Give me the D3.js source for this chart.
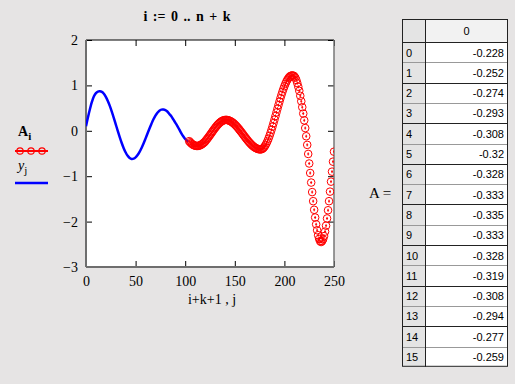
<!DOCTYPE html>
<html>
<head>
<meta charset="utf-8">
<script src="https://cdn.jsdelivr.net/npm/d3@7"></script>
<style>
  html, body { margin: 0; padding: 0; background: #e6e4e4; }
  svg { display: block; }
</style>
</head>
<body>
<div id="chart"></div>
<script>
// blue trace y_j, sampled every 2 units of j
const yjX = [0, 2, 4, 6, 8, 10, 12, 14, 16, 18, 20, 22, 24, 26, 28, 30, 32, 34, 36, 38, 40, 42, 44, 46, 48,
  50, 52, 54, 56, 58, 60, 62, 64, 66, 68, 70, 72, 74, 76, 78, 80, 82, 84, 86, 88, 90, 92, 94, 96, 98, 100, 102, 103];
const yjValues = [0.10, 0.30, 0.48, 0.64, 0.76, 0.83, 0.865, 0.87, 0.856, 0.815, 0.748, 0.658, 0.549, 0.423, 0.286,
  0.143, 0.0, -0.139, -0.268, -0.382, -0.478, -0.552, -0.598, -0.619, -0.613, -0.585, -0.535, -0.465, -0.379,
  -0.281, -0.173, -0.061, 0.05, 0.156, 0.253, 0.334, 0.399, 0.444, 0.467, 0.468, 0.455, 0.425, 0.37, 0.32, 0.25,
  0.18, 0.11, 0.03, -0.05, -0.12, -0.18, -0.23, -0.25];

// red trace A_i plotted at i+k+1
const kOffset = 104;
const aValues = [
  -0.228, -0.252, -0.274, -0.293, -0.308, -0.32, -0.328, -0.333, -0.335, -0.333, -0.328, -0.319, -0.308, -0.294, -0.277, -0.259,
  -0.238, -0.209, -0.182, -0.154, -0.124, -0.094, -0.063, -0.032, -0.001, 0.030, 0.059, 0.087, 0.114, 0.139, 0.161, 0.182,
  0.199, 0.214, 0.225, 0.233, 0.238, 0.240, 0.239, 0.235, 0.228, 0.219, 0.208, 0.194, 0.178, 0.160, 0.140, 0.117,
  0.094, 0.069, 0.043, 0.015, -0.013, -0.041, -0.070, -0.100, -0.129, -0.157, -0.185, -0.213, -0.239, -0.264, -0.287, -0.310,
  -0.330, -0.348, -0.364, -0.378, -0.389, -0.398, -0.405, -0.409, -0.410, -0.406, -0.394, -0.375, -0.348, -0.314, -0.272, -0.225,
  -0.171, -0.112, -0.048, 0.021, 0.093, 0.169, 0.246, 0.325, 0.405, 0.485, 0.564, 0.641, 0.717, 0.789, 0.858, 0.922,
  0.981, 1.035, 1.082, 1.124, 1.158, 1.185, 1.205, 1.216, 1.220, 1.215, 1.20, 1.17, 1.12, 1.05, 0.97, 0.88,
  0.77, 0.65, 0.52, 0.38, 0.23, 0.06, -0.12, -0.31, -0.51, -0.72, -0.93, -1.14, -1.35, -1.55, -1.74, -1.91,
  -2.06, -2.19, -2.30, -2.38, -2.43, -2.45, -2.43, -2.39, -2.32, -2.22, -2.09, -1.93, -1.75, -1.55, -1.34, -1.12,
  -0.90, -0.68, -0.46
];

const xTicks = [0, 50, 100, 150, 200, 250];
const yTicks = [2, 1, 0, -1, -2, -3];
const tableRows = d3.range(16);

const width = 515;
const height = 384;
const plot = { left: 86, right: 334, top: 40, bottom: 267 };
const serif = "'Liberation Serif', 'Times New Roman', serif";
const sans = "'Liberation Sans', Arial, sans-serif";

const svg = d3.select("#chart").append("svg").attr("width", width).attr("height", height);

const x = d3.scaleLinear().domain([0, 250]).range([plot.left, plot.right]);
const y = d3.scaleLinear().domain([-3, 2]).range([plot.bottom, plot.top]);

svg.append("text")
  .attr("x", 187).attr("y", 21)
  .attr("text-anchor", "middle")
  .attr("font-family", serif).attr("font-size", 14).attr("font-weight", 700)
  .attr("word-spacing", 2)
  .text("i := 0 .. n + k");

svg.append("rect")
  .attr("x", plot.left).attr("y", plot.top)
  .attr("width", plot.right - plot.left).attr("height", plot.bottom - plot.top)
  .attr("fill", "#ffffff");

svg.append("clipPath").attr("id", "plotClip")
  .append("rect")
  .attr("x", plot.left).attr("y", plot.top)
  .attr("width", plot.right - plot.left).attr("height", plot.bottom - plot.top);

const styleAxis = (g) => {
  g.select(".domain").remove();
  g.selectAll("line").attr("stroke", "#000");
  g.selectAll("text").attr("font-family", serif).attr("font-size", 14).attr("fill", "#000");
};

svg.append("g")
  .attr("transform", `translate(${plot.left},0)`)
  .call(d3.axisLeft(y).tickValues(yTicks).tickSize(-6).tickPadding(8).tickFormat(d3.format("d")))
  .call(styleAxis);

svg.append("g")
  .attr("transform", `translate(0,${plot.bottom})`)
  .call(d3.axisBottom(x).tickValues(xTicks).tickSize(-6).tickPadding(9))
  .call(styleAxis);

svg.append("g")
  .attr("transform", `translate(${plot.right},0)`)
  .call(d3.axisRight(y).tickValues(yTicks).tickSize(-6).tickFormat(""))
  .call(styleAxis);

svg.append("g")
  .attr("transform", `translate(0,${plot.top})`)
  .call(d3.axisTop(x).tickValues(xTicks).tickSize(-6).tickFormat(""))
  .call(styleAxis);

// frame
svg.append("line").attr("x1", plot.left).attr("x2", plot.right).attr("y1", plot.top).attr("y2", plot.top)
  .attr("stroke", "#000").attr("stroke-width", 1);
svg.append("line").attr("x1", plot.right).attr("x2", plot.right).attr("y1", plot.top).attr("y2", plot.bottom)
  .attr("stroke", "#777").attr("stroke-width", 1.5);
svg.append("line").attr("x1", plot.left).attr("x2", plot.left).attr("y1", plot.top).attr("y2", plot.bottom)
  .attr("stroke", "#6e6e6e").attr("stroke-width", 2);
svg.append("line").attr("x1", plot.left).attr("x2", plot.right).attr("y1", plot.bottom).attr("y2", plot.bottom)
  .attr("stroke", "#6e6e6e").attr("stroke-width", 2);

const traces = svg.append("g").attr("clip-path", "url(#plotClip)");

const blueLine = d3.line()
  .x((d, idx) => x(yjX[idx]))
  .y((d) => y(d))
  .curve(d3.curveCatmullRom);

traces.append("path")
  .datum(yjValues)
  .attr("fill", "none")
  .attr("stroke", "#0000ff")
  .attr("stroke-width", 2.5)
  .attr("stroke-linejoin", "round")
  .attr("d", blueLine);

const aPoints = aValues.map((v, i) => ({ xv: i + kOffset, yv: v }));

const markers = traces.append("g")
  .selectAll("g")
  .data(aPoints)
  .join("g")
  .attr("transform", (d) => `translate(${x(d.xv)},${y(d.yv)})`);

markers.append("circle")
  .attr("r", 3.8)
  .attr("fill", "none")
  .attr("stroke", "#ff0000")
  .attr("stroke-width", 1);

markers.append("path")
  .attr("d", "M-1,0H1M0,-1.5V1.5")
  .attr("stroke", "#ff0000")
  .attr("stroke-width", 1);

svg.append("text")
  .attr("x", 212).attr("y", 304)
  .attr("text-anchor", "middle")
  .attr("font-family", serif).attr("font-size", 14)
  .text("i+k+1 , j");

// legend
const legend = svg.append("g");
const aLabel = legend.append("text")
  .attr("x", 18).attr("y", 136)
  .attr("font-family", serif).attr("font-size", 14).attr("font-weight", 700);
aLabel.append("tspan").text("A");
aLabel.append("tspan").attr("dy", 4).attr("font-size", 11).text("i");

legend.append("line")
  .attr("x1", 15).attr("x2", 48).attr("y1", 151).attr("y2", 151)
  .attr("stroke", "#ff0000").attr("stroke-width", 2);
legend.selectAll("circle.leg")
  .data([20, 31, 42])
  .join("circle")
  .attr("class", "leg")
  .attr("cx", (d) => d).attr("cy", 151).attr("r", 3.2)
  .attr("fill", "none").attr("stroke", "#ff0000").attr("stroke-width", 1.2);

const yLabel = legend.append("text")
  .attr("x", 18).attr("y", 170)
  .attr("font-family", serif).attr("font-size", 14).attr("font-style", "italic");
yLabel.append("tspan").text("y");
yLabel.append("tspan").attr("dy", 4).attr("font-size", 11).attr("font-style", "normal").text("j");

legend.append("line")
  .attr("x1", 15).attr("x2", 48).attr("y1", 183).attr("y2", 183)
  .attr("stroke", "#0000ff").attr("stroke-width", 2.5);

// matrix display
svg.append("text")
  .attr("x", 369).attr("y", 198)
  .attr("font-family", serif).attr("font-size", 15)
  .text("A =");

const table = { left: 402, mid: 425, right: 508, top: 19, header: 23, row: 20.3 };
const tg = svg.append("g");

tg.append("rect")
  .attr("x", table.left).attr("y", table.top)
  .attr("width", table.right - table.left).attr("height", table.header + table.row * tableRows.length)
  .attr("fill", "#ffffff");
tg.append("rect")
  .attr("x", table.left).attr("y", table.top)
  .attr("width", table.mid - table.left).attr("height", table.header + table.row * tableRows.length)
  .attr("fill", "#e4e4e4");
tg.append("rect")
  .attr("x", table.mid).attr("y", table.top)
  .attr("width", table.right - table.mid).attr("height", table.header)
  .attr("fill", "#f2f2f2");

const rowTop = (i) => table.top + table.header + i * table.row;

tg.selectAll("line.row")
  .data(tableRows)
  .join("line")
  .attr("class", "row")
  .attr("x1", table.left).attr("x2", table.right)
  .attr("y1", (i) => Math.round(rowTop(i)) + 0.5).attr("y2", (i) => Math.round(rowTop(i)) + 0.5)
  .attr("stroke", (i) => (i % 2 === 0 ? "#222" : "#999"));

tg.append("line")
  .attr("x1", table.mid + 0.5).attr("x2", table.mid + 0.5)
  .attr("y1", table.top).attr("y2", rowTop(tableRows.length))
  .attr("stroke", "#222");

tg.append("rect")
  .attr("x", table.left + 0.5).attr("y", table.top + 0.5)
  .attr("width", table.right - table.left - 1).attr("height", table.header + table.row * tableRows.length - 1)
  .attr("fill", "none").attr("stroke", "#222");

tg.append("text")
  .attr("x", (table.mid + table.right) / 2).attr("y", table.top + 16)
  .attr("text-anchor", "middle")
  .attr("font-family", sans).attr("font-size", 11)
  .text("0");

tg.selectAll("text.idx")
  .data(tableRows)
  .join("text")
  .attr("class", "idx")
  .attr("x", table.left + 4).attr("y", (i) => rowTop(i) + 14.5)
  .attr("font-family", sans).attr("font-size", 11)
  .text((i) => i);

const fmt = d3.format(".3~f");
tg.selectAll("text.val")
  .data(tableRows)
  .join("text")
  .attr("class", "val")
  .attr("x", table.right - 4).attr("y", (i) => rowTop(i) + 14.5)
  .attr("text-anchor", "end")
  .attr("font-family", sans).attr("font-size", 11)
  .text((i) => fmt(aValues[i]).replace("−", "-"));
</script>
</body>
</html>
